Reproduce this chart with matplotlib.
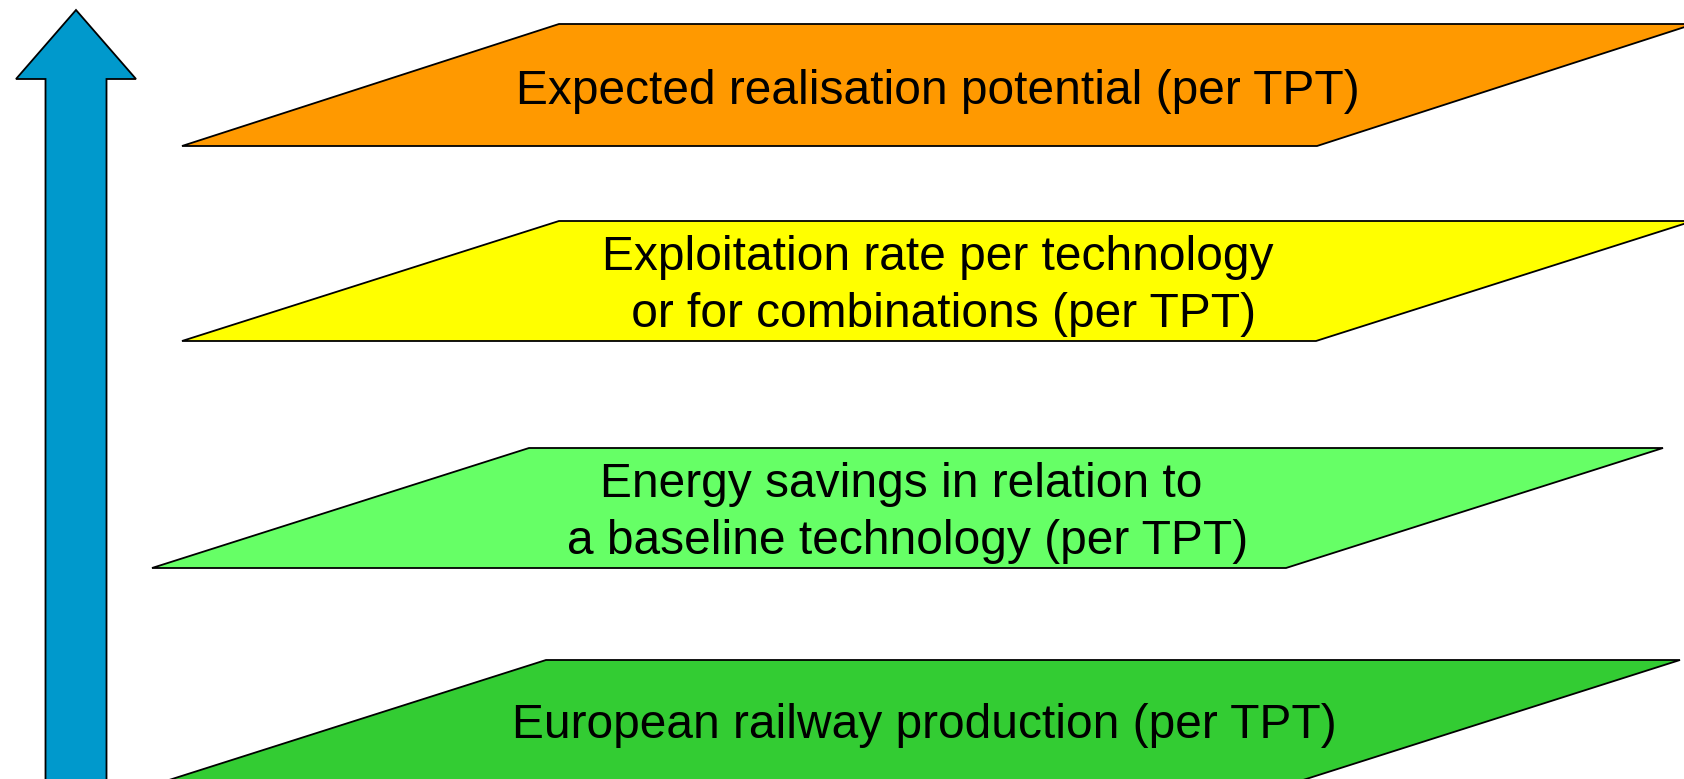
import matplotlib
matplotlib.use("Agg")
import matplotlib.pyplot as plt
from matplotlib.patches import Polygon

# Content
labels = [
    "Expected realisation potential (per TPT)",
    "Exploitation rate per technology\n or for combinations (per TPT)",
    "Energy savings in relation to \na baseline technology (per TPT)",
    "European railway production (per TPT)",
]
fill_colors = ["#FF9900", "#FFFF00", "#66FF66", "#33CC33"]
arrow_color = "#0099CC"

# Layout (pixel space, y downwards)
W, H = 1684, 779
layers = [  # (bottom-left x, top y, bottom width, height, slant offset)
    (182, 24, 1135, 122, 377),
    (182, 221, 1134, 120, 377),
    (152, 448, 1134, 120, 377),
    (169, 660, 1134, 120, 377),
]

fig = plt.figure(figsize=(W / 100, H / 100), dpi=100)
ax = fig.add_axes([0, 0, 1, 1])
ax.set_xlim(0, W)
ax.set_ylim(H, 0)
ax.axis("off")

# Arrow
arrow_pts = [(76, 10), (136, 79), (106.5, 79), (106.5, 800),
             (45.5, 800), (45.5, 79), (16, 79)]
ax.add_patch(Polygon(arrow_pts, closed=True, facecolor=arrow_color,
                     edgecolor="black", linewidth=1.3, clip_on=True))

for (blx, ty, bw, h, off), col, lab in zip(layers, fill_colors, labels):
    by = ty + h
    pts = [(blx, by), (blx + off, ty), (blx + off + bw, ty), (blx + bw, by)]
    ax.add_patch(Polygon(pts, closed=True, facecolor=col, edgecolor="black",
                         linewidth=1.3))
    cx = sum(p[0] for p in pts) / 4
    cy = (ty + by) / 2
    dy = 5 if "\n" in lab else 6
    ax.text(cx, cy + dy, lab, ha="center", va="center", multialignment="center",
            fontsize=34.5, family=["Liberation Sans", "DejaVu Sans"],
            color="black", linespacing=1.36)

fig.savefig("out.png", dpi=100)
